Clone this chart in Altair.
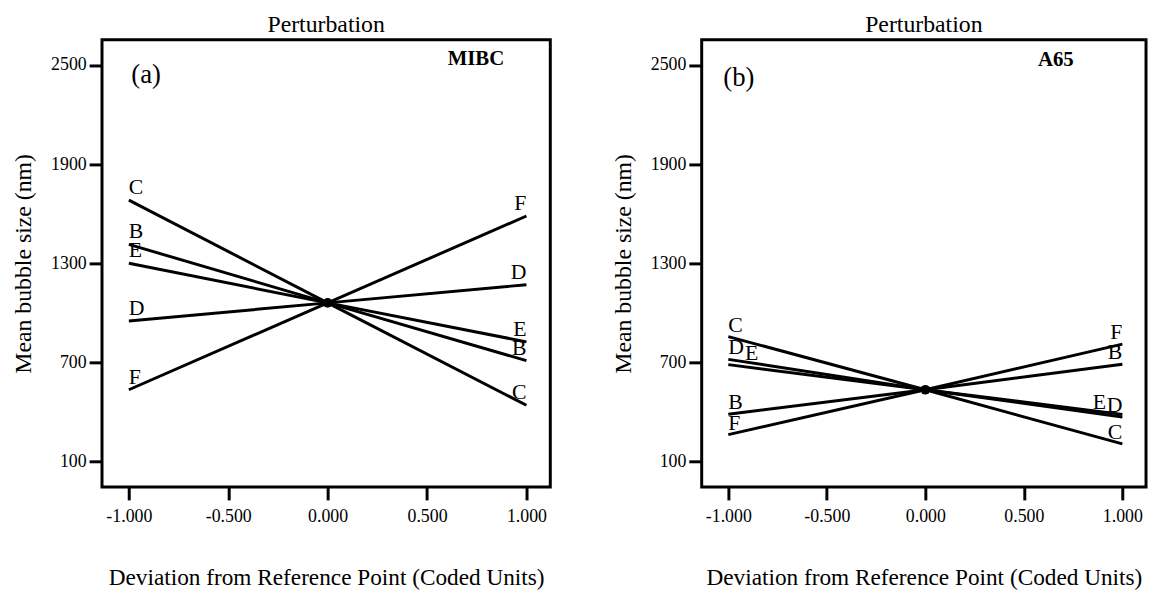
import altair as alt
import pandas as pd

FONT = "Liberation Serif"

x_levels = [-1.0, 0.0, 1.0]
factors = ["B", "C", "D", "E", "F"]

# Panel (a): MIBC, mean bubble size (nm) at coded -1, 0, 1
a_B = [1414, 1060, 710]
a_C = [1682, 1060, 440]
a_D = [950, 1060, 1170]
a_E = [1300, 1060, 824]
a_F = [534, 1060, 1586]

# Panel (b): A65
b_B = [386, 534, 688]
b_C = [856, 534, 206]
b_D = [718, 534, 369]
b_E = [686, 534, 385]
b_F = [262, 534, 810]

x_ticks = [-1.0, -0.5, 0.0, 0.5, 1.0]
y_ticks = [100, 700, 1300, 1900, 2500]

# label anchor x (coded units) where labels would otherwise overlap
b_left_label_x = {"E": -0.915}
b_right_label_x = {"E": 0.917}

X_DOMAIN = [-1.135, 1.12]
Y_DOMAIN = [-55, 2653]


def panel(series, tag, tag_xy, surf, surf_xy, left_x, right_x, dy, width, height):
    rows = []
    for f, vals in zip(factors, series):
        for xv, yv in zip(x_levels, vals):
            rows.append({"factor": f, "x": xv, "y": yv})
    lines_df = pd.DataFrame(rows)
    left_df = pd.DataFrame([{"factor": f, "x": left_x.get(f, -1.0), "y": v[0]}
                            for f, v in zip(factors, series)])
    right_df = pd.DataFrame([{"factor": f, "x": right_x.get(f, 1.0), "y": v[2]}
                             for f, v in zip(factors, series)])
    center_df = pd.DataFrame([{"x": 0.0, "y": series[1][1]}])
    tag_df = pd.DataFrame([{"x": tag_xy[0], "y": tag_xy[1], "t": tag}])
    surf_df = pd.DataFrame([{"x": surf_xy[0], "y": surf_xy[1], "t": surf}])

    xenc = alt.X("x:Q", scale=alt.Scale(domain=X_DOMAIN, nice=False, zero=False),
                 axis=alt.Axis(title="Deviation from Reference Point (Coded Units)",
                               values=x_ticks,
                               labelExpr="datum.value < 0 ? '-' + format(-datum.value, '.3f') : format(datum.value, '.3f')",
                               tickSize=13, tickWidth=3, tickColor="black",
                               labelPadding=8, titlePadding=40,
                               labelFont=FONT, labelFontSize=18, labelColor="black",
                               titleFont=FONT, titleFontSize=23.5, titleFontWeight="normal",
                               titleColor="black", domain=False, grid=False,
                               labelFlush=False, labelOverlap=False))
    yenc = alt.Y("y:Q", scale=alt.Scale(domain=Y_DOMAIN, nice=False, zero=False),
                 axis=alt.Axis(title="Mean bubble size (nm)", values=y_ticks, format="d",
                               tickSize=13, tickWidth=3, tickColor="black",
                               labelPadding=3, titlePadding=15,
                               labelFont=FONT, labelFontSize=18, labelColor="black",
                               titleFont=FONT, titleFontSize=24, titleFontWeight="normal",
                               titleColor="black", domain=False, grid=False,
                               labelFlush=False, labelOverlap=False))

    lines = alt.Chart(lines_df).mark_line(color="black", strokeWidth=3).encode(
        x=xenc, y=yenc, detail="factor:N")
    dot = alt.Chart(center_df).mark_circle(color="black", size=95, opacity=1).encode(x=xenc, y=yenc)
    lab_l = alt.Chart(left_df).mark_text(font=FONT, fontSize=22, color="black",
                                         align="left", baseline="alphabetic", dy=dy).encode(
        x=xenc, y=yenc, text="factor:N")
    lab_r = alt.Chart(right_df).mark_text(font=FONT, fontSize=22, color="black",
                                          align="right", baseline="alphabetic", dy=dy).encode(
        x=xenc, y=yenc, text="factor:N")
    tag_m = alt.Chart(tag_df).mark_text(font=FONT, fontSize=27, color="black",
                                        align="left", baseline="alphabetic").encode(
        x=xenc, y=yenc, text="t:N")
    surf_m = alt.Chart(surf_df).mark_text(font=FONT, fontSize=21, fontWeight="bold",
                                          color="black", align="right",
                                          baseline="alphabetic").encode(
        x=xenc, y=yenc, text="t:N")

    return alt.layer(lines, dot, lab_l, lab_r, tag_m, surf_m).properties(
        width=width, height=height,
        title=alt.TitleParams("Perturbation", frame="group", anchor="middle",
                              font=FONT, fontSize=24, fontWeight="normal",
                              color="black", offset=3))


pa = panel([a_B, a_C, a_D, a_E, a_F], "(a)", (-0.988, 2394), "MIBC", (0.888, 2498),
           {}, {}, -6, 453, 452)
pb = panel([b_B, b_C, b_D, b_E, b_F], "(b)", (-1.025, 2370), "A65", (0.753, 2494),
           b_left_label_x, b_right_label_x, -5, 449, 452)

chart = alt.hconcat(pa, pb, spacing=58).properties(
    padding={"left": 2, "top": 0, "right": 0, "bottom": 0},
    background="white",
).configure_view(stroke="black", strokeWidth=3)

chart.save("out.html", embed_options={"renderer": "svg", "actions": False})
